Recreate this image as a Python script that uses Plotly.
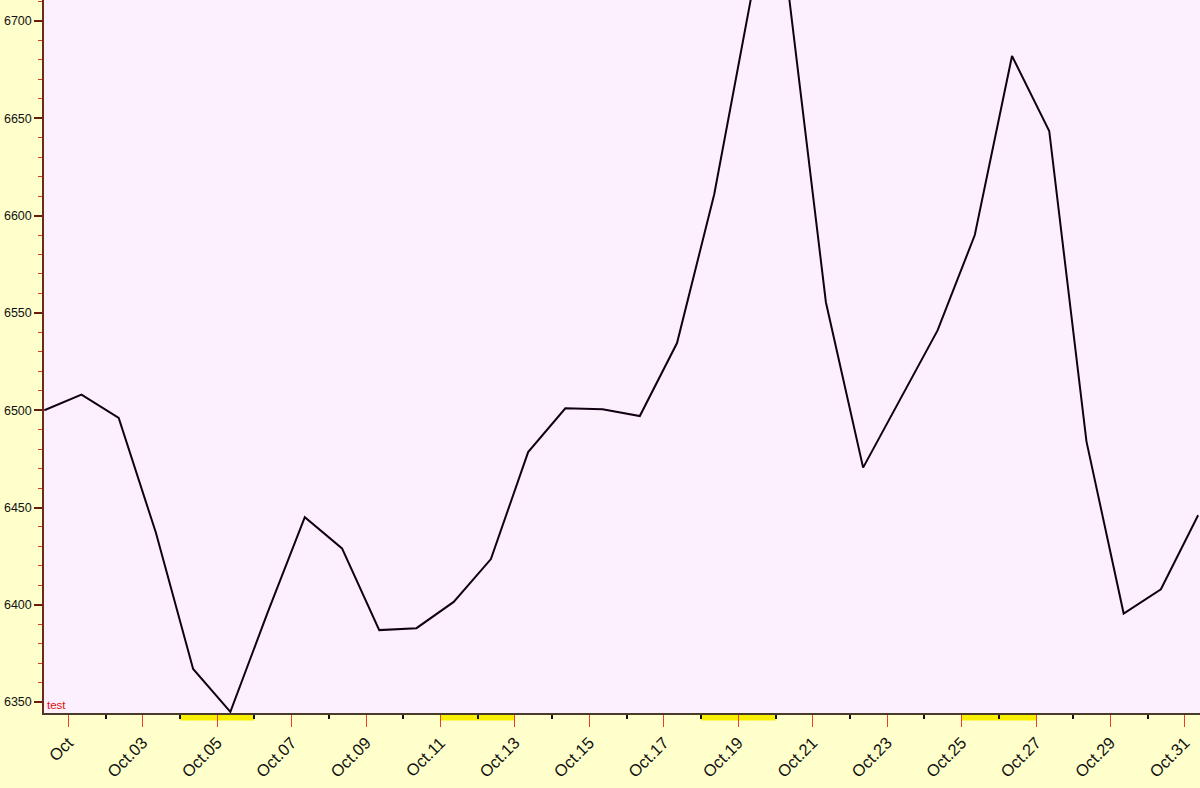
import plotly.graph_objects as go
import pandas as pd

# ---- data ----
dates = pd.date_range("2008-09-30 08:30", "2008-10-31 08:30", freq="D")
values = [6500, 6508, 6496, 6437, 6367, 6345, 6396, 6445, 6429, 6387,
          6388, 6401.5, 6423.5, 6478.5, 6501, 6500.5, 6497, 6534.5, 6611, 6713,
          6714, 6555.5, 6470.5, 6506, 6541, 6590, 6682, 6643.5, 6484, 6395.5,
          6408, 6446]
tick_dates = pd.date_range("2008-10-01", "2008-10-31", freq="2D")
tick_labels = ["Oct"] + ["Oct.%02d" % d.day for d in tick_dates[1:]]
weekend_starts = ["2008-10-04", "2008-10-11", "2008-10-18", "2008-10-25"]
y_ticks = [6350, 6400, 6450, 6500, 6550, 6600, 6650, 6700]

fig = go.Figure()
fig.add_trace(go.Scatter(x=dates, y=values, mode="lines",
                         line=dict(color="#120012", width=2), hoverinfo="skip"))

for ws in weekend_starts:
    s = pd.Timestamp(ws)
    fig.add_shape(type="rect", xref="x", yref="paper",
                  x0=s, x1=s + pd.Timedelta(days=2), y0=0, y1=-7.5 / 713,
                  fillcolor="#f8f000", line=dict(width=0), layer="below")

fig.add_annotation(text="test", xref="paper", yref="paper", x=0.0005, y=0.0,
                   xanchor="left", yanchor="bottom", showarrow=False,
                   font=dict(family="Arial", size=11.5, color="#e01010"))

fig.update_layout(
    width=1200, height=788,
    margin=dict(l=44, r=0, t=0, b=75, pad=0),
    paper_bgcolor="#ffffcc",
    plot_bgcolor="#fdf0fd",
    showlegend=False,
    font=dict(family="Arial", color="#111111"),
    xaxis=dict(
        range=[pd.Timestamp("2008-09-30 08:20"), pd.Timestamp("2008-10-31 09:43")],
        tickmode="array", tickvals=tick_dates, ticktext=tick_labels,
        tickangle=-45, ticks="outside", ticklen=12, tickcolor="#e8402a", tickwidth=1,
        tickfont=dict(family="Arial", size=16.5, color="#111111"),
        showgrid=False, zeroline=False,
        showline=True, linecolor="#4a3a2a", linewidth=1.5,
        minor=dict(ticks="outside", ticklen=4, tickcolor="#111111", tickwidth=1.5,
                   tick0="2008-10-02", dtick=2 * 86400000, showgrid=False),
    ),
    yaxis=dict(
        range=[6344.4, 6710.8],
        tickmode="array", tickvals=y_ticks,
        ticks="outside", ticklen=8, tickcolor="#6b1a10", tickwidth=1.5,
        tickfont=dict(family="Arial", size=12.5, color="#111111"),
        showgrid=False, zeroline=False,
        showline=True, linecolor="#6b2a20", linewidth=1.5,
        minor=dict(ticks="outside", ticklen=4, tickcolor="#d04020", tickwidth=1,
                   tick0=6350, dtick=10, showgrid=False),
    ),
)

fig.write_html("out.html", config={"displayModeBar": False},
               post_script="document.body.style.margin='0px';document.body.style.overflow='hidden';")
